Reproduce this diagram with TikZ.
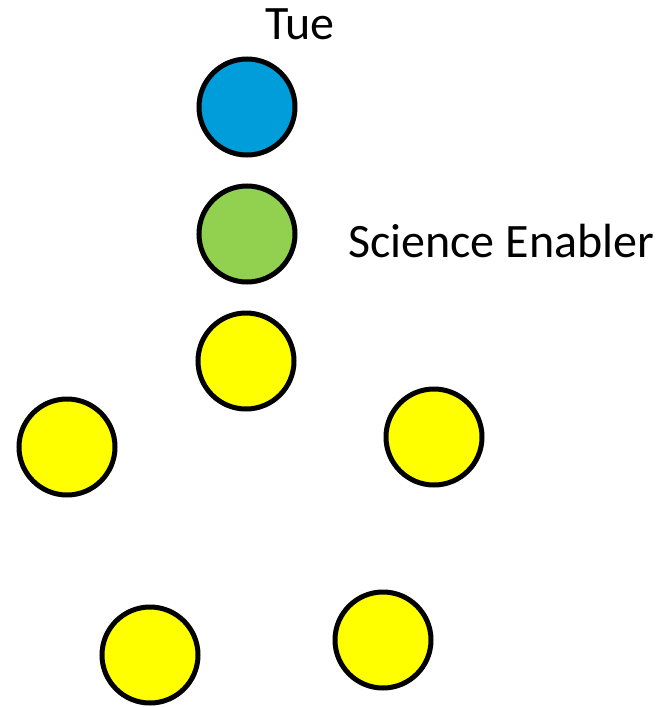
\documentclass[tikz,border=0pt]{standalone}
\usepackage{fontspec}
\setmainfont{Carlito}
\usepackage{tikz}
\usetikzlibrary{positioning}

\definecolor{tueblue}{RGB}{0,157,219}
\definecolor{enablergreen}{RGB}{146,208,80}
\definecolor{dotyellow}{RGB}{255,255,0}

\tikzset{
    dot/.style={circle, draw=black, line width=5pt, minimum size=96pt, inner sep=0pt},
    tag/.style={inner sep=0pt, font=\fontsize{48}{58}\selectfont}
}

\begin{document}
\begin{tikzpicture}[x=1pt, y=-1pt]
    \useasboundingbox (0,0) rectangle (661,707);

    % Column of coloured dots
    \node[dot, fill=tueblue] (tue) at (247,107) {};
    \node[dot, fill=enablergreen] (enabler) at (247,234) {};
    \node[dot, fill=dotyellow] (top) at (246,361) {};

    % Scattered yellow dots
    \node[dot, fill=dotyellow] (left) at (67,447) {};
    \node[dot, fill=dotyellow] (right) at (434,437) {};
    \node[dot, fill=dotyellow] (lowleft) at (150,655) {};
    \node[dot, fill=dotyellow] (lowright) at (383,640) {};

    % Labels
    \node[tag, anchor=base] (tuelabel) at (300,39) {Tue};
    \node[tag, anchor=base west] (enablerlabel) at (348,257) {Science Enabler};

\end{tikzpicture}
\end{document}
